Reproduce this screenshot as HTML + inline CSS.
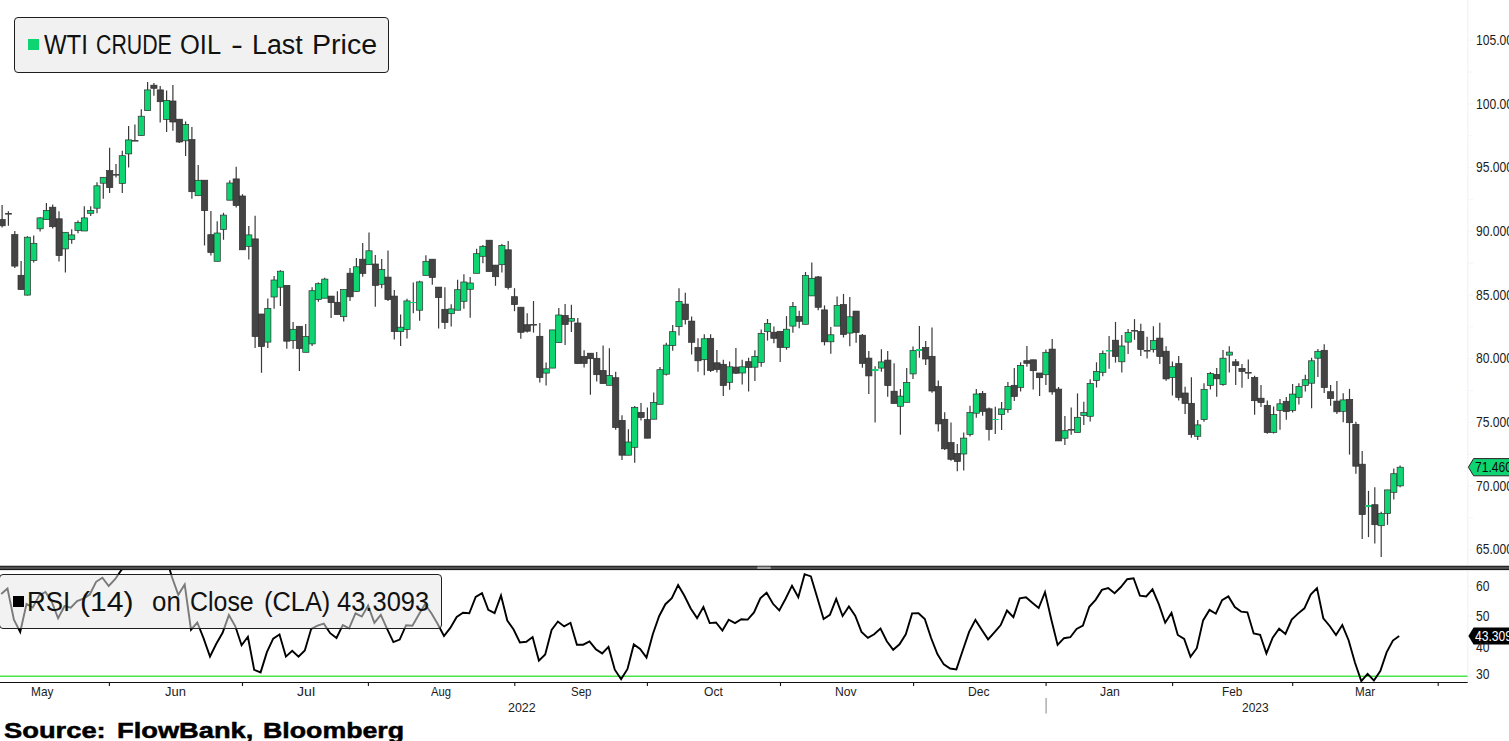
<!DOCTYPE html>
<html><head><meta charset="utf-8"><title>WTI Crude Oil</title>
<style>
html,body{margin:0;padding:0;background:#fff;}
body{width:1509px;height:741px;overflow:hidden;position:relative;font-family:"Liberation Sans",sans-serif;color:#111;}
svg{position:absolute;left:0;top:0;}
.ft{position:absolute;white-space:pre;transform-origin:0 0;display:block;}
.box{position:absolute;box-sizing:border-box;border:1px solid #1e1e1e;border-radius:4px;}
.sq{position:absolute;}
.sr{-webkit-text-stroke:0.5px #000;}
</style></head><body>
<svg width="1509" height="741" viewBox="0 0 1509 741">
<line x1="1467.8" y1="0" x2="1467.8" y2="682" stroke="#f4f3fb" stroke-width="1.3"/>
<g stroke="#f7f6fc" stroke-width="1.4"><line x1="1468" y1="549.8" x2="1473" y2="549.8"/><line x1="1468" y1="518.0" x2="1473" y2="518.0"/><line x1="1468" y1="486.1" x2="1473" y2="486.1"/><line x1="1468" y1="454.2" x2="1473" y2="454.2"/><line x1="1468" y1="422.4" x2="1473" y2="422.4"/><line x1="1468" y1="390.6" x2="1473" y2="390.6"/><line x1="1468" y1="358.7" x2="1473" y2="358.7"/><line x1="1468" y1="326.8" x2="1473" y2="326.8"/><line x1="1468" y1="295.0" x2="1473" y2="295.0"/><line x1="1468" y1="263.1" x2="1473" y2="263.1"/><line x1="1468" y1="231.3" x2="1473" y2="231.3"/><line x1="1468" y1="199.4" x2="1473" y2="199.4"/><line x1="1468" y1="167.6" x2="1473" y2="167.6"/><line x1="1468" y1="135.7" x2="1473" y2="135.7"/><line x1="1468" y1="103.9" x2="1473" y2="103.9"/><line x1="1468" y1="72.1" x2="1473" y2="72.1"/><line x1="1468" y1="40.2" x2="1473" y2="40.2"/><line x1="1468" y1="586.3" x2="1473" y2="586.3"/><line x1="1468" y1="616.1" x2="1473" y2="616.1"/><line x1="1468" y1="647.0" x2="1473" y2="647.0"/><line x1="1468" y1="674.4" x2="1473" y2="674.4"/></g>
<g stroke="#3a3a3a" stroke-width="1.2"><line x1="2.1" y1="205.0" x2="2.1" y2="227.5"/><line x1="8.4" y1="211.2" x2="8.4" y2="225.8"/><line x1="14.8" y1="231.0" x2="14.8" y2="267.9"/><line x1="21.1" y1="260.9" x2="21.1" y2="289.6"/><line x1="27.4" y1="236.3" x2="27.4" y2="295.6"/><line x1="33.7" y1="235.4" x2="33.7" y2="262.5"/><line x1="40.1" y1="217.0" x2="40.1" y2="231.4"/><line x1="46.4" y1="203.0" x2="46.4" y2="219.5"/><line x1="52.7" y1="204.4" x2="52.7" y2="228.4"/><line x1="59.0" y1="211.2" x2="59.0" y2="261.6"/><line x1="65.4" y1="232.3" x2="65.4" y2="272.6"/><line x1="71.7" y1="229.3" x2="71.7" y2="243.7"/><line x1="78.0" y1="220.4" x2="78.0" y2="233.2"/><line x1="84.3" y1="206.3" x2="84.3" y2="231.0"/><line x1="90.7" y1="206.3" x2="90.7" y2="216.0"/><line x1="97.0" y1="182.2" x2="97.0" y2="213.3"/><line x1="103.3" y1="177.3" x2="103.3" y2="198.7"/><line x1="109.6" y1="147.8" x2="109.6" y2="192.9"/><line x1="116.0" y1="164.0" x2="116.0" y2="177.6"/><line x1="122.3" y1="150.8" x2="122.3" y2="192.9"/><line x1="128.6" y1="125.9" x2="128.6" y2="167.6"/><line x1="134.9" y1="124.5" x2="134.9" y2="140.8"/><line x1="141.3" y1="109.2" x2="141.3" y2="135.5"/><line x1="147.6" y1="82.0" x2="147.6" y2="110.6"/><line x1="153.9" y1="82.9" x2="153.9" y2="95.7"/><line x1="160.2" y1="85.9" x2="160.2" y2="122.4"/><line x1="166.6" y1="90.4" x2="166.6" y2="132.0"/><line x1="172.9" y1="85.0" x2="172.9" y2="130.8"/><line x1="179.2" y1="119.2" x2="179.2" y2="143.0"/><line x1="185.6" y1="121.5" x2="185.6" y2="156.0"/><line x1="191.9" y1="127.1" x2="191.9" y2="198.7"/><line x1="198.2" y1="165.0" x2="198.2" y2="195.7"/><line x1="204.5" y1="180.2" x2="204.5" y2="245.5"/><line x1="210.9" y1="211.0" x2="210.9" y2="255.6"/><line x1="217.2" y1="221.2" x2="217.2" y2="261.3"/><line x1="223.5" y1="212.8" x2="223.5" y2="239.8"/><line x1="229.8" y1="180.3" x2="229.8" y2="200.2"/><line x1="236.2" y1="166.7" x2="236.2" y2="207.4"/><line x1="242.5" y1="194.2" x2="242.5" y2="249.8"/><line x1="248.8" y1="226.1" x2="248.8" y2="259.6"/><line x1="255.1" y1="215.8" x2="255.1" y2="347.9"/><line x1="261.5" y1="314.0" x2="261.5" y2="372.8"/><line x1="267.8" y1="298.6" x2="267.8" y2="347.9"/><line x1="274.1" y1="275.9" x2="274.1" y2="308.8"/><line x1="280.4" y1="270.2" x2="280.4" y2="306.1"/><line x1="286.8" y1="285.4" x2="286.8" y2="348.8"/><line x1="293.1" y1="321.9" x2="293.1" y2="348.8"/><line x1="299.4" y1="326.3" x2="299.4" y2="371.0"/><line x1="305.7" y1="324.0" x2="305.7" y2="352.3"/><line x1="312.1" y1="287.2" x2="312.1" y2="346.0"/><line x1="318.4" y1="282.5" x2="318.4" y2="301.8"/><line x1="324.7" y1="277.7" x2="324.7" y2="298.2"/><line x1="331.1" y1="296.1" x2="331.1" y2="317.9"/><line x1="337.4" y1="291.2" x2="337.4" y2="314.6"/><line x1="343.7" y1="289.6" x2="343.7" y2="321.6"/><line x1="350.0" y1="268.0" x2="350.0" y2="300.9"/><line x1="356.4" y1="257.9" x2="356.4" y2="291.4"/><line x1="362.7" y1="243.0" x2="362.7" y2="276.7"/><line x1="369.0" y1="232.5" x2="369.0" y2="264.7"/><line x1="375.3" y1="255.0" x2="375.3" y2="306.7"/><line x1="381.7" y1="259.0" x2="381.7" y2="288.3"/><line x1="388.0" y1="250.4" x2="388.0" y2="300.9"/><line x1="394.3" y1="290.0" x2="394.3" y2="339.5"/><line x1="400.6" y1="314.6" x2="400.6" y2="346.1"/><line x1="407.0" y1="298.8" x2="407.0" y2="338.6"/><line x1="413.3" y1="282.5" x2="413.3" y2="313.2"/><line x1="419.6" y1="280.7" x2="419.6" y2="320.7"/><line x1="425.9" y1="255.2" x2="425.9" y2="275.4"/><line x1="432.3" y1="259.2" x2="432.3" y2="284.8"/><line x1="438.6" y1="287.1" x2="438.6" y2="328.4"/><line x1="444.9" y1="287.3" x2="444.9" y2="329.0"/><line x1="451.2" y1="304.3" x2="451.2" y2="326.4"/><line x1="457.6" y1="279.7" x2="457.6" y2="310.2"/><line x1="463.9" y1="274.2" x2="463.9" y2="308.7"/><line x1="470.2" y1="277.0" x2="470.2" y2="317.7"/><line x1="476.6" y1="248.8" x2="476.6" y2="273.3"/><line x1="482.9" y1="244.9" x2="482.9" y2="263.3"/><line x1="489.2" y1="240.2" x2="489.2" y2="271.6"/><line x1="495.5" y1="265.1" x2="495.5" y2="285.8"/><line x1="501.9" y1="244.0" x2="501.9" y2="272.6"/><line x1="508.2" y1="241.0" x2="508.2" y2="289.6"/><line x1="514.5" y1="288.2" x2="514.5" y2="311.2"/><line x1="520.8" y1="307.2" x2="520.8" y2="338.8"/><line x1="527.2" y1="313.3" x2="527.2" y2="332.6"/><line x1="533.5" y1="301.0" x2="533.5" y2="332.6"/><line x1="539.8" y1="323.0" x2="539.8" y2="382.6"/><line x1="546.1" y1="362.5" x2="546.1" y2="385.6"/><line x1="552.5" y1="329.9" x2="552.5" y2="368.1"/><line x1="558.8" y1="307.9" x2="558.8" y2="342.6"/><line x1="565.1" y1="304.0" x2="565.1" y2="345.0"/><line x1="571.4" y1="304.8" x2="571.4" y2="331.9"/><line x1="577.8" y1="318.0" x2="577.8" y2="363.6"/><line x1="584.1" y1="350.3" x2="584.1" y2="367.5"/><line x1="590.4" y1="353.2" x2="590.4" y2="394.8"/><line x1="596.7" y1="352.1" x2="596.7" y2="381.6"/><line x1="603.1" y1="345.4" x2="603.1" y2="383.6"/><line x1="609.4" y1="348.2" x2="609.4" y2="385.3"/><line x1="615.7" y1="371.8" x2="615.7" y2="429.7"/><line x1="622.0" y1="415.2" x2="622.0" y2="459.9"/><line x1="628.4" y1="429.2" x2="628.4" y2="455.2"/><line x1="634.7" y1="406.0" x2="634.7" y2="462.7"/><line x1="641.0" y1="403.0" x2="641.0" y2="420.6"/><line x1="647.4" y1="407.5" x2="647.4" y2="438.2"/><line x1="653.7" y1="392.4" x2="653.7" y2="419.2"/><line x1="660.0" y1="367.1" x2="660.0" y2="404.3"/><line x1="666.3" y1="342.8" x2="666.3" y2="375.5"/><line x1="672.7" y1="325.0" x2="672.7" y2="350.7"/><line x1="679.0" y1="288.2" x2="679.0" y2="335.4"/><line x1="685.3" y1="292.7" x2="685.3" y2="324.6"/><line x1="691.6" y1="316.4" x2="691.6" y2="354.5"/><line x1="698.0" y1="338.2" x2="698.0" y2="371.7"/><line x1="704.3" y1="334.3" x2="704.3" y2="375.3"/><line x1="710.6" y1="334.3" x2="710.6" y2="372.0"/><line x1="716.9" y1="350.1" x2="716.9" y2="372.6"/><line x1="723.3" y1="359.7" x2="723.3" y2="395.9"/><line x1="729.6" y1="361.6" x2="729.6" y2="389.7"/><line x1="735.9" y1="348.1" x2="735.9" y2="374.1"/><line x1="742.2" y1="359.7" x2="742.2" y2="384.6"/><line x1="748.6" y1="357.7" x2="748.6" y2="391.5"/><line x1="754.9" y1="350.3" x2="754.9" y2="381.0"/><line x1="761.2" y1="329.6" x2="761.2" y2="366.8"/><line x1="767.5" y1="319.0" x2="767.5" y2="340.6"/><line x1="773.9" y1="326.6" x2="773.9" y2="343.2"/><line x1="780.2" y1="331.3" x2="780.2" y2="362.0"/><line x1="786.5" y1="316.1" x2="786.5" y2="349.7"/><line x1="792.9" y1="302.0" x2="792.9" y2="332.7"/><line x1="799.2" y1="310.8" x2="799.2" y2="328.3"/><line x1="805.5" y1="272.0" x2="805.5" y2="324.3"/><line x1="811.8" y1="262.5" x2="811.8" y2="295.9"/><line x1="818.2" y1="276.0" x2="818.2" y2="310.3"/><line x1="824.5" y1="305.4" x2="824.5" y2="345.4"/><line x1="830.8" y1="326.9" x2="830.8" y2="353.8"/><line x1="837.1" y1="296.6" x2="837.1" y2="326.1"/><line x1="843.5" y1="293.9" x2="843.5" y2="337.5"/><line x1="849.8" y1="297.1" x2="849.8" y2="346.2"/><line x1="856.1" y1="311.1" x2="856.1" y2="342.7"/><line x1="862.4" y1="333.9" x2="862.4" y2="367.8"/><line x1="868.8" y1="351.1" x2="868.8" y2="394.0"/><line x1="875.1" y1="366.2" x2="875.1" y2="422.5"/><line x1="881.4" y1="349.3" x2="881.4" y2="371.8"/><line x1="887.7" y1="351.1" x2="887.7" y2="396.7"/><line x1="894.1" y1="363.3" x2="894.1" y2="403.5"/><line x1="900.4" y1="389.1" x2="900.4" y2="434.7"/><line x1="906.7" y1="368.1" x2="906.7" y2="402.3"/><line x1="913.0" y1="346.5" x2="913.0" y2="378.9"/><line x1="919.4" y1="326.0" x2="919.4" y2="357.7"/><line x1="925.7" y1="341.0" x2="925.7" y2="364.9"/><line x1="932.0" y1="327.6" x2="932.0" y2="392.7"/><line x1="938.3" y1="380.4" x2="938.3" y2="431.6"/><line x1="944.7" y1="412.3" x2="944.7" y2="450.0"/><line x1="951.0" y1="422.5" x2="951.0" y2="460.7"/><line x1="957.3" y1="444.1" x2="957.3" y2="471.2"/><line x1="963.7" y1="432.4" x2="963.7" y2="470.5"/><line x1="970.0" y1="405.8" x2="970.0" y2="436.5"/><line x1="976.3" y1="389.1" x2="976.3" y2="417.7"/><line x1="982.6" y1="390.9" x2="982.6" y2="415.8"/><line x1="989.0" y1="407.5" x2="989.0" y2="440.4"/><line x1="995.3" y1="406.7" x2="995.3" y2="433.9"/><line x1="1001.6" y1="401.9" x2="1001.6" y2="430.0"/><line x1="1007.9" y1="382.1" x2="1007.9" y2="412.8"/><line x1="1014.3" y1="368.1" x2="1014.3" y2="400.9"/><line x1="1020.6" y1="362.3" x2="1020.6" y2="391.4"/><line x1="1026.9" y1="346.1" x2="1026.9" y2="366.8"/><line x1="1033.2" y1="359.8" x2="1033.2" y2="389.6"/><line x1="1039.6" y1="373.0" x2="1039.6" y2="396.1"/><line x1="1045.9" y1="349.6" x2="1045.9" y2="385.1"/><line x1="1052.2" y1="339.0" x2="1052.2" y2="394.7"/><line x1="1058.5" y1="387.0" x2="1058.5" y2="440.9"/><line x1="1064.9" y1="416.0" x2="1064.9" y2="444.9"/><line x1="1071.2" y1="407.6" x2="1071.2" y2="434.7"/><line x1="1077.5" y1="393.4" x2="1077.5" y2="432.4"/><line x1="1083.8" y1="401.8" x2="1083.8" y2="425.0"/><line x1="1090.2" y1="379.3" x2="1090.2" y2="421.4"/><line x1="1096.5" y1="362.3" x2="1096.5" y2="387.5"/><line x1="1102.8" y1="350.4" x2="1102.8" y2="376.3"/><line x1="1109.1" y1="336.0" x2="1109.1" y2="368.8"/><line x1="1115.5" y1="321.9" x2="1115.5" y2="362.6"/><line x1="1121.8" y1="335.1" x2="1121.8" y2="372.6"/><line x1="1128.1" y1="328.9" x2="1128.1" y2="353.9"/><line x1="1134.5" y1="319.1" x2="1134.5" y2="339.8"/><line x1="1140.8" y1="323.7" x2="1140.8" y2="356.0"/><line x1="1147.1" y1="336.8" x2="1147.1" y2="358.6"/><line x1="1153.4" y1="326.3" x2="1153.4" y2="352.6"/><line x1="1159.8" y1="322.8" x2="1159.8" y2="364.0"/><line x1="1166.1" y1="346.3" x2="1166.1" y2="380.7"/><line x1="1172.4" y1="361.4" x2="1172.4" y2="395.4"/><line x1="1178.7" y1="356.0" x2="1178.7" y2="400.4"/><line x1="1185.1" y1="386.8" x2="1185.1" y2="413.9"/><line x1="1191.4" y1="377.2" x2="1191.4" y2="437.7"/><line x1="1197.7" y1="420.0" x2="1197.7" y2="440.0"/><line x1="1204.0" y1="383.3" x2="1204.0" y2="421.8"/><line x1="1210.4" y1="371.9" x2="1210.4" y2="389.5"/><line x1="1216.7" y1="367.9" x2="1216.7" y2="396.8"/><line x1="1223.0" y1="350.0" x2="1223.0" y2="385.8"/><line x1="1229.3" y1="346.3" x2="1229.3" y2="372.6"/><line x1="1235.7" y1="359.1" x2="1235.7" y2="384.9"/><line x1="1242.0" y1="364.0" x2="1242.0" y2="387.7"/><line x1="1248.3" y1="359.6" x2="1248.3" y2="378.9"/><line x1="1254.6" y1="375.8" x2="1254.6" y2="414.7"/><line x1="1261.0" y1="385.1" x2="1261.0" y2="407.0"/><line x1="1267.3" y1="400.4" x2="1267.3" y2="433.7"/><line x1="1273.6" y1="406.4" x2="1273.6" y2="433.4"/><line x1="1280.0" y1="399.0" x2="1280.0" y2="429.7"/><line x1="1286.3" y1="396.9" x2="1286.3" y2="419.7"/><line x1="1292.6" y1="384.1" x2="1292.6" y2="412.4"/><line x1="1298.9" y1="383.2" x2="1298.9" y2="404.6"/><line x1="1305.3" y1="374.7" x2="1305.3" y2="391.5"/><line x1="1311.6" y1="357.8" x2="1311.6" y2="408.3"/><line x1="1317.9" y1="349.0" x2="1317.9" y2="377.1"/><line x1="1324.2" y1="344.3" x2="1324.2" y2="392.9"/><line x1="1330.6" y1="385.0" x2="1330.6" y2="405.7"/><line x1="1336.9" y1="381.0" x2="1336.9" y2="413.9"/><line x1="1343.2" y1="393.2" x2="1343.2" y2="422.2"/><line x1="1349.5" y1="388.9" x2="1349.5" y2="454.6"/><line x1="1355.9" y1="421.7" x2="1355.9" y2="473.7"/><line x1="1362.2" y1="451.0" x2="1362.2" y2="538.9"/><line x1="1368.5" y1="490.9" x2="1368.5" y2="537.1"/><line x1="1374.8" y1="487.3" x2="1374.8" y2="543.5"/><line x1="1381.2" y1="511.8" x2="1381.2" y2="557.1"/><line x1="1387.5" y1="489.9" x2="1387.5" y2="524.9"/><line x1="1393.8" y1="468.6" x2="1393.8" y2="499.6"/><line x1="1400.1" y1="465.6" x2="1400.1" y2="487.3"/></g><g stroke="#2e2e2e" stroke-width="0.7"><rect x="-1.0" y="219.6" width="6.2" height="6.2" fill="#444444"/><rect x="5.1" y="213" width="6.8" height="1.6" fill="#444444" stroke="none"/><rect x="11.7" y="234.6" width="6.2" height="31.5" fill="#444444"/><rect x="18.0" y="275.3" width="6.2" height="14.3" fill="#444444"/><rect x="24.3" y="237.2" width="6.2" height="57.9" fill="#0ed572"/><rect x="30.7" y="243.3" width="6.2" height="17.2" fill="#0ed572"/><rect x="37.0" y="217.9" width="6.2" height="10.9" fill="#0ed572"/><rect x="43.3" y="210.4" width="6.2" height="9.1" fill="#0ed572"/><rect x="49.6" y="207.2" width="6.2" height="19.5" fill="#444444"/><rect x="56.0" y="218.8" width="6.2" height="36.8" fill="#444444"/><rect x="62.3" y="232.3" width="6.2" height="16.6" fill="#0ed572"/><rect x="68.6" y="234.9" width="6.2" height="4.6" fill="#0ed572"/><rect x="74.9" y="222.6" width="6.2" height="7.9" fill="#0ed572"/><rect x="81.3" y="217.9" width="6.2" height="13.1" fill="#0ed572"/><rect x="87.6" y="210.4" width="6.2" height="2.9" fill="#0ed572"/><rect x="93.9" y="185.8" width="6.2" height="22.4" fill="#0ed572"/><rect x="100.2" y="177.3" width="6.2" height="5.9" fill="#0ed572"/><rect x="106.6" y="170.6" width="6.2" height="17.0" fill="#444444"/><rect x="112.6" y="174" width="6.8" height="1.6" fill="#444444" stroke="none"/><rect x="119.2" y="155.7" width="6.2" height="27.7" fill="#0ed572"/><rect x="125.5" y="139.9" width="6.2" height="14.0" fill="#0ed572"/><rect x="131.6" y="140" width="6.8" height="1.6" fill="#444444" stroke="none"/><rect x="138.2" y="116.2" width="6.2" height="19.3" fill="#0ed572"/><rect x="144.5" y="89.9" width="6.2" height="20.7" fill="#0ed572"/><rect x="150.8" y="85.2" width="6.2" height="3.1" fill="#444444"/><rect x="157.2" y="89.9" width="6.2" height="11.8" fill="#444444"/><rect x="163.5" y="100.4" width="6.2" height="19.0" fill="#0ed572"/><rect x="169.8" y="101.0" width="6.2" height="21.0" fill="#444444"/><rect x="176.2" y="119.2" width="6.2" height="22.8" fill="#444444"/><rect x="182.5" y="124.6" width="6.2" height="16.2" fill="#0ed572"/><rect x="188.8" y="139.6" width="6.2" height="52.1" fill="#444444"/><rect x="195.1" y="180.3" width="6.2" height="15.4" fill="#0ed572"/><rect x="201.5" y="180.2" width="6.2" height="30.4" fill="#444444"/><rect x="207.8" y="234.7" width="6.2" height="17.8" fill="#444444"/><rect x="214.1" y="233.0" width="6.2" height="28.3" fill="#0ed572"/><rect x="220.4" y="215.1" width="6.2" height="14.4" fill="#0ed572"/><rect x="226.8" y="183.0" width="6.2" height="17.2" fill="#0ed572"/><rect x="233.1" y="178.9" width="6.2" height="26.6" fill="#444444"/><rect x="239.4" y="196.0" width="6.2" height="53.8" fill="#444444"/><rect x="245.7" y="234.9" width="6.2" height="11.4" fill="#0ed572"/><rect x="252.1" y="238.9" width="6.2" height="97.6" fill="#444444"/><rect x="258.4" y="314.0" width="6.2" height="32.5" fill="#444444"/><rect x="264.7" y="308.4" width="6.2" height="33.7" fill="#0ed572"/><rect x="271.0" y="280.0" width="6.2" height="17.0" fill="#0ed572"/><rect x="277.4" y="271.2" width="6.2" height="16.0" fill="#0ed572"/><rect x="283.7" y="285.4" width="6.2" height="55.8" fill="#444444"/><rect x="290.0" y="329.3" width="6.2" height="11.1" fill="#0ed572"/><rect x="296.3" y="326.3" width="6.2" height="22.3" fill="#444444"/><rect x="302.7" y="336.5" width="6.2" height="15.8" fill="#0ed572"/><rect x="309.0" y="290.7" width="6.2" height="53.2" fill="#0ed572"/><rect x="315.3" y="283.7" width="6.2" height="15.8" fill="#0ed572"/><rect x="321.7" y="279.1" width="6.2" height="19.1" fill="#0ed572"/><rect x="328.0" y="296.1" width="6.2" height="6.5" fill="#444444"/><rect x="334.3" y="302.3" width="6.2" height="12.3" fill="#444444"/><rect x="340.6" y="289.6" width="6.2" height="27.1" fill="#0ed572"/><rect x="347.0" y="273.2" width="6.2" height="23.6" fill="#444444"/><rect x="353.3" y="266.8" width="6.2" height="24.6" fill="#0ed572"/><rect x="359.6" y="259.2" width="6.2" height="14.2" fill="#444444"/><rect x="365.9" y="250.8" width="6.2" height="13.9" fill="#0ed572"/><rect x="372.3" y="264.0" width="6.2" height="21.4" fill="#444444"/><rect x="378.6" y="269.6" width="6.2" height="14.7" fill="#0ed572"/><rect x="384.9" y="277.1" width="6.2" height="22.5" fill="#444444"/><rect x="391.2" y="296.1" width="6.2" height="35.5" fill="#444444"/><rect x="397.6" y="327.2" width="6.2" height="4.4" fill="#0ed572"/><rect x="403.9" y="300.9" width="6.2" height="28.6" fill="#0ed572"/><rect x="409.9" y="302" width="6.8" height="1.0" fill="#0ed572" stroke="none"/><rect x="416.5" y="281.9" width="6.2" height="28.3" fill="#0ed572"/><rect x="422.9" y="261.3" width="6.2" height="14.1" fill="#0ed572"/><rect x="429.2" y="259.2" width="6.2" height="18.2" fill="#444444"/><rect x="435.5" y="287.1" width="6.2" height="10.5" fill="#444444"/><rect x="441.8" y="309.3" width="6.2" height="13.2" fill="#444444"/><rect x="448.2" y="308.9" width="6.2" height="4.8" fill="#0ed572"/><rect x="454.5" y="289.7" width="6.2" height="20.5" fill="#0ed572"/><rect x="460.8" y="282.0" width="6.2" height="19.3" fill="#0ed572"/><rect x="467.1" y="283.0" width="6.2" height="6.3" fill="#0ed572"/><rect x="473.5" y="253.7" width="6.2" height="19.6" fill="#0ed572"/><rect x="479.8" y="246.3" width="6.2" height="10.0" fill="#0ed572"/><rect x="486.1" y="240.2" width="6.2" height="31.4" fill="#444444"/><rect x="492.5" y="265.1" width="6.2" height="11.6" fill="#444444"/><rect x="498.8" y="245.4" width="6.2" height="19.3" fill="#0ed572"/><rect x="505.1" y="249.8" width="6.2" height="37.7" fill="#444444"/><rect x="511.4" y="296.7" width="6.2" height="7.9" fill="#444444"/><rect x="517.8" y="307.2" width="6.2" height="25.1" fill="#444444"/><rect x="524.1" y="324.7" width="6.2" height="6.5" fill="#444444"/><rect x="530.1" y="324" width="6.8" height="1.6" fill="#444444" stroke="none"/><rect x="536.7" y="336.3" width="6.2" height="41.3" fill="#444444"/><rect x="543.1" y="368.8" width="6.2" height="4.3" fill="#0ed572"/><rect x="549.4" y="329.9" width="6.2" height="38.2" fill="#0ed572"/><rect x="555.7" y="315.0" width="6.2" height="27.6" fill="#0ed572"/><rect x="562.0" y="315.5" width="6.2" height="9.0" fill="#444444"/><rect x="568.4" y="318.6" width="6.2" height="2.6" fill="#0ed572"/><rect x="574.7" y="323.0" width="6.2" height="40.6" fill="#444444"/><rect x="581.0" y="356.4" width="6.2" height="7.0" fill="#444444"/><rect x="587.3" y="353.2" width="6.2" height="5.5" fill="#444444"/><rect x="593.7" y="358.3" width="6.2" height="16.4" fill="#444444"/><rect x="600.0" y="370.5" width="6.2" height="13.1" fill="#444444"/><rect x="606.3" y="375.4" width="6.2" height="9.9" fill="#0ed572"/><rect x="612.6" y="377.7" width="6.2" height="49.8" fill="#444444"/><rect x="619.0" y="420.4" width="6.2" height="34.8" fill="#444444"/><rect x="625.3" y="442.0" width="6.2" height="13.2" fill="#0ed572"/><rect x="631.6" y="407.3" width="6.2" height="40.0" fill="#0ed572"/><rect x="638.0" y="412.4" width="6.2" height="5.1" fill="#444444"/><rect x="644.3" y="419.6" width="6.2" height="18.6" fill="#444444"/><rect x="650.6" y="402.5" width="6.2" height="16.7" fill="#0ed572"/><rect x="656.9" y="369.7" width="6.2" height="34.6" fill="#0ed572"/><rect x="663.3" y="345.1" width="6.2" height="29.1" fill="#0ed572"/><rect x="669.6" y="331.7" width="6.2" height="13.9" fill="#0ed572"/><rect x="675.9" y="301.5" width="6.2" height="25.2" fill="#0ed572"/><rect x="682.2" y="304.1" width="6.2" height="15.5" fill="#444444"/><rect x="688.6" y="321.1" width="6.2" height="21.2" fill="#444444"/><rect x="694.9" y="347.5" width="6.2" height="13.3" fill="#444444"/><rect x="701.2" y="338.8" width="6.2" height="20.9" fill="#0ed572"/><rect x="707.5" y="338.4" width="6.2" height="32.1" fill="#444444"/><rect x="713.9" y="362.8" width="6.2" height="6.7" fill="#444444"/><rect x="720.2" y="364.3" width="6.2" height="21.2" fill="#444444"/><rect x="726.5" y="366.8" width="6.2" height="15.5" fill="#0ed572"/><rect x="732.8" y="367.1" width="6.2" height="6.1" fill="#444444"/><rect x="739.2" y="366.8" width="6.2" height="6.2" fill="#0ed572"/><rect x="745.5" y="361.7" width="6.2" height="5.7" fill="#444444"/><rect x="751.8" y="356.4" width="6.2" height="10.8" fill="#0ed572"/><rect x="758.1" y="333.4" width="6.2" height="29.0" fill="#0ed572"/><rect x="764.5" y="323.4" width="6.2" height="8.3" fill="#0ed572"/><rect x="770.8" y="332.2" width="6.2" height="6.1" fill="#444444"/><rect x="777.1" y="331.3" width="6.2" height="16.2" fill="#444444"/><rect x="783.4" y="329.2" width="6.2" height="18.3" fill="#0ed572"/><rect x="789.8" y="306.4" width="6.2" height="19.7" fill="#0ed572"/><rect x="796.1" y="316.4" width="6.2" height="4.9" fill="#444444"/><rect x="802.4" y="275.5" width="6.2" height="48.8" fill="#0ed572"/><rect x="808.8" y="278.3" width="6.2" height="17.6" fill="#0ed572"/><rect x="815.1" y="276.9" width="6.2" height="30.4" fill="#444444"/><rect x="821.4" y="309.9" width="6.2" height="31.9" fill="#444444"/><rect x="827.7" y="334.8" width="6.2" height="7.0" fill="#0ed572"/><rect x="834.1" y="305.5" width="6.2" height="20.6" fill="#0ed572"/><rect x="840.4" y="304.5" width="6.2" height="30.0" fill="#444444"/><rect x="846.7" y="316.8" width="6.2" height="16.3" fill="#0ed572"/><rect x="853.0" y="311.1" width="6.2" height="21.4" fill="#444444"/><rect x="859.4" y="335.2" width="6.2" height="28.2" fill="#444444"/><rect x="865.7" y="358.1" width="6.2" height="17.8" fill="#444444"/><rect x="871.7" y="369" width="6.8" height="2.0" fill="#0ed572" stroke="none"/><rect x="878.3" y="361.9" width="6.2" height="6.2" fill="#0ed572"/><rect x="884.7" y="360.1" width="6.2" height="25.5" fill="#444444"/><rect x="891.0" y="391.2" width="6.2" height="12.3" fill="#444444"/><rect x="897.3" y="396.1" width="6.2" height="10.2" fill="#0ed572"/><rect x="903.6" y="382.5" width="6.2" height="19.8" fill="#0ed572"/><rect x="910.0" y="350.5" width="6.2" height="23.4" fill="#0ed572"/><rect x="916.0" y="349" width="6.8" height="2.0" fill="#0ed572" stroke="none"/><rect x="922.6" y="347.5" width="6.2" height="11.5" fill="#444444"/><rect x="928.9" y="356.3" width="6.2" height="34.7" fill="#444444"/><rect x="935.3" y="386.5" width="6.2" height="37.4" fill="#444444"/><rect x="941.6" y="419.3" width="6.2" height="29.5" fill="#444444"/><rect x="947.9" y="442.6" width="6.2" height="16.7" fill="#444444"/><rect x="954.3" y="453.4" width="6.2" height="8.1" fill="#444444"/><rect x="960.6" y="438.1" width="6.2" height="15.9" fill="#0ed572"/><rect x="966.9" y="412.5" width="6.2" height="21.9" fill="#0ed572"/><rect x="973.2" y="394.0" width="6.2" height="19.2" fill="#0ed572"/><rect x="979.6" y="393.5" width="6.2" height="17.9" fill="#444444"/><rect x="985.9" y="408.8" width="6.2" height="20.7" fill="#444444"/><rect x="991.9" y="419" width="6.8" height="1.0" fill="#0ed572" stroke="none"/><rect x="998.5" y="408.9" width="6.2" height="5.7" fill="#0ed572"/><rect x="1004.9" y="386.5" width="6.2" height="23.1" fill="#0ed572"/><rect x="1011.2" y="385.3" width="6.2" height="11.2" fill="#444444"/><rect x="1017.5" y="365.4" width="6.2" height="22.0" fill="#0ed572"/><rect x="1023.8" y="360.7" width="6.2" height="2.6" fill="#444444"/><rect x="1030.2" y="359.8" width="6.2" height="10.9" fill="#444444"/><rect x="1036.5" y="373.0" width="6.2" height="4.7" fill="#444444"/><rect x="1042.8" y="352.3" width="6.2" height="22.4" fill="#0ed572"/><rect x="1049.1" y="349.1" width="6.2" height="42.8" fill="#444444"/><rect x="1055.5" y="389.1" width="6.2" height="51.8" fill="#444444"/><rect x="1061.8" y="430.7" width="6.2" height="7.5" fill="#0ed572"/><rect x="1067.8" y="429" width="6.8" height="1.6" fill="#444444" stroke="none"/><rect x="1074.4" y="417.3" width="6.2" height="15.1" fill="#0ed572"/><rect x="1080.8" y="412.5" width="6.2" height="3.0" fill="#0ed572"/><rect x="1087.1" y="383.5" width="6.2" height="32.8" fill="#0ed572"/><rect x="1093.4" y="371.4" width="6.2" height="9.1" fill="#0ed572"/><rect x="1099.7" y="353.5" width="6.2" height="18.8" fill="#0ed572"/><rect x="1105.8" y="350" width="6.8" height="1.5" fill="#0ed572" stroke="none"/><rect x="1112.4" y="340.2" width="6.2" height="16.3" fill="#444444"/><rect x="1118.7" y="346.0" width="6.2" height="15.8" fill="#0ed572"/><rect x="1125.1" y="332.5" width="6.2" height="9.6" fill="#0ed572"/><rect x="1131.1" y="330" width="6.8" height="1.6" fill="#444444" stroke="none"/><rect x="1137.7" y="331.4" width="6.2" height="18.1" fill="#444444"/><rect x="1143.7" y="350" width="6.8" height="1.6" fill="#444444" stroke="none"/><rect x="1150.4" y="340.4" width="6.2" height="9.1" fill="#0ed572"/><rect x="1156.7" y="338.1" width="6.2" height="18.4" fill="#444444"/><rect x="1163.0" y="351.2" width="6.2" height="27.7" fill="#444444"/><rect x="1169.3" y="366.7" width="6.2" height="10.8" fill="#0ed572"/><rect x="1175.7" y="363.5" width="6.2" height="33.9" fill="#444444"/><rect x="1182.0" y="393.0" width="6.2" height="10.5" fill="#444444"/><rect x="1188.3" y="403.3" width="6.2" height="31.3" fill="#444444"/><rect x="1194.6" y="424.9" width="6.2" height="11.4" fill="#0ed572"/><rect x="1201.0" y="389.3" width="6.2" height="30.3" fill="#0ed572"/><rect x="1207.3" y="373.5" width="6.2" height="11.9" fill="#0ed572"/><rect x="1213.6" y="374.4" width="6.2" height="4.4" fill="#444444"/><rect x="1219.9" y="358.2" width="6.2" height="26.4" fill="#0ed572"/><rect x="1226.3" y="352.1" width="6.2" height="3.0" fill="#0ed572"/><rect x="1232.6" y="361.8" width="6.2" height="3.8" fill="#444444"/><rect x="1238.9" y="368.4" width="6.2" height="3.0" fill="#444444"/><rect x="1244.9" y="372" width="6.8" height="1.6" fill="#444444" stroke="none"/><rect x="1251.6" y="377.5" width="6.2" height="23.2" fill="#444444"/><rect x="1257.9" y="398.2" width="6.2" height="4.4" fill="#444444"/><rect x="1264.2" y="405.3" width="6.2" height="27.2" fill="#444444"/><rect x="1270.6" y="414.6" width="6.2" height="17.8" fill="#0ed572"/><rect x="1276.9" y="403.8" width="6.2" height="6.6" fill="#0ed572"/><rect x="1283.2" y="401.3" width="6.2" height="10.3" fill="#444444"/><rect x="1289.5" y="394.1" width="6.2" height="16.3" fill="#0ed572"/><rect x="1295.9" y="386.5" width="6.2" height="10.8" fill="#0ed572"/><rect x="1302.2" y="379.7" width="6.2" height="5.7" fill="#0ed572"/><rect x="1308.5" y="360.8" width="6.2" height="22.4" fill="#0ed572"/><rect x="1314.8" y="351.3" width="6.2" height="6.9" fill="#0ed572"/><rect x="1321.2" y="350.3" width="6.2" height="37.3" fill="#444444"/><rect x="1327.5" y="391.7" width="6.2" height="6.8" fill="#444444"/><rect x="1333.8" y="401.1" width="6.2" height="10.7" fill="#444444"/><rect x="1340.1" y="399.9" width="6.2" height="11.4" fill="#0ed572"/><rect x="1346.5" y="399.4" width="6.2" height="23.3" fill="#444444"/><rect x="1352.8" y="424.3" width="6.2" height="41.9" fill="#444444"/><rect x="1359.1" y="464.2" width="6.2" height="50.4" fill="#444444"/><rect x="1365.1" y="505" width="6.8" height="2.0" fill="#0ed572" stroke="none"/><rect x="1371.8" y="504.7" width="6.2" height="20.0" fill="#444444"/><rect x="1378.1" y="513.6" width="6.2" height="12.1" fill="#0ed572"/><rect x="1384.4" y="489.9" width="6.2" height="23.7" fill="#0ed572"/><rect x="1390.7" y="473.7" width="6.2" height="18.6" fill="#0ed572"/><rect x="1397.1" y="467.2" width="6.2" height="18.7" fill="#0ed572"/></g>
<rect x="0" y="565" width="1509" height="1" fill="#c4c4c4"/>
<rect x="0" y="566" width="1509" height="1" fill="#262626"/>
<rect x="0" y="567" width="1509" height="2" fill="#505050"/>
<rect x="0" y="569" width="1509" height="1" fill="#1a1a1a"/>
<rect x="0" y="570" width="1509" height="1" fill="#e6e6e6"/>
<rect x="757.3" y="566" width="13.4" height="1" fill="#5a5a5a"/>
<rect x="757.3" y="567" width="13.4" height="2" fill="#a2a2a2"/>
<line x1="0" y1="676.2" x2="1467.5" y2="676.2" stroke="#48e648" stroke-width="1.5"/>
<svg x="0" y="570" width="1468" height="113" viewBox="0 570 1468 113"><polyline points="1.2,594.0 7.5,588.5 13.9,619.7 20.2,632.0 26.5,604.0 32.8,607.4 39.2,595.4 45.5,592.0 51.8,602.0 58.1,618.3 64.5,606.2 70.8,607.7 77.1,601.1 83.4,598.6 89.8,594.5 96.1,581.8 102.4,577.7 108.7,586.0 115.1,579.2 121.4,570.0 127.7,562.9 134.0,563.7 140.4,553.0 146.7,543.2 153.0,542.7 159.3,556.4 165.7,555.8 172.0,577.3 178.3,594.8 184.7,584.5 191.0,629.7 197.3,622.5 203.6,638.4 210.0,656.5 216.3,643.8 222.6,632.8 228.9,615.1 235.3,626.3 241.6,645.2 247.9,636.8 254.2,669.9 260.6,672.4 266.9,652.2 273.2,638.6 279.5,634.5 285.9,656.6 292.2,650.9 298.5,656.6 304.8,650.4 311.2,628.8 317.5,625.7 323.8,623.6 330.2,633.2 336.5,638.0 342.8,625.1 349.1,628.3 355.5,613.3 361.8,616.6 368.1,605.6 374.4,622.8 380.8,614.9 387.1,628.9 393.4,642.1 399.7,639.6 406.1,625.2 412.4,625.8 418.7,614.7 425.0,604.3 431.4,613.3 437.7,624.0 444.0,636.0 450.3,627.9 456.7,616.9 463.0,612.7 469.3,613.3 475.7,596.9 482.0,593.1 488.3,609.9 494.6,613.1 501.0,595.4 507.3,620.6 513.6,629.5 519.9,642.5 526.3,641.8 532.6,637.0 538.9,660.6 545.2,654.4 551.6,629.9 557.9,621.5 564.2,626.4 570.5,622.8 576.9,644.8 583.2,644.7 589.5,641.4 595.8,649.2 602.2,653.4 608.5,646.9 614.8,669.7 621.1,679.2 627.5,668.9 633.8,644.4 640.1,648.9 646.5,657.5 652.8,634.3 659.1,616.2 665.4,604.2 671.8,598.1 678.1,585.1 684.4,595.8 690.7,608.4 697.1,618.1 703.4,607.0 709.7,623.1 716.0,622.5 722.4,630.5 728.7,619.7 735.0,623.1 741.3,619.2 747.7,619.6 754.0,612.4 760.3,598.3 766.6,592.7 773.0,603.8 779.3,610.4 785.6,598.7 792.0,585.7 798.3,597.3 804.6,574.2 810.9,576.4 817.3,597.8 823.6,619.1 829.9,614.9 836.2,598.8 842.6,616.0 848.9,606.5 855.2,615.6 861.5,631.9 867.9,637.9 874.2,634.3 880.5,628.6 886.8,641.2 893.2,649.8 899.5,644.3 905.8,634.3 912.1,613.4 918.5,613.2 924.8,619.0 931.1,638.0 937.4,654.1 943.8,664.4 950.1,668.5 956.4,669.4 962.8,650.3 969.1,631.9 975.4,619.9 981.7,629.8 988.1,639.4 994.4,632.4 1000.7,625.1 1007.0,610.5 1013.4,617.1 1019.7,598.4 1026.0,597.2 1032.3,602.7 1038.7,608.0 1045.0,592.1 1051.3,619.5 1057.6,644.9 1064.0,638.2 1070.3,637.2 1076.6,628.9 1082.9,625.6 1089.3,606.8 1095.6,599.8 1101.9,589.9 1108.2,588.0 1114.6,593.2 1120.9,587.0 1127.2,579.2 1133.6,578.2 1139.9,595.6 1146.2,596.4 1152.5,589.3 1158.9,604.4 1165.2,622.7 1171.5,612.9 1177.8,635.0 1184.2,638.9 1190.5,656.8 1196.8,648.2 1203.1,620.4 1209.5,609.9 1215.8,613.7 1222.1,600.2 1228.4,596.4 1234.8,607.1 1241.1,611.6 1247.4,612.3 1253.7,633.4 1260.1,634.7 1266.4,653.4 1272.7,637.6 1279.1,628.7 1285.4,634.0 1291.7,619.6 1298.0,613.6 1304.4,608.3 1310.7,594.5 1317.0,588.1 1323.3,618.3 1329.7,626.0 1336.0,635.0 1342.3,625.1 1348.6,640.2 1355.0,662.8 1361.3,681.1 1367.6,673.8 1373.9,680.5 1380.3,671.1 1386.6,652.4 1392.9,640.6 1399.2,636.0" fill="none" stroke="#000" stroke-width="1.9" stroke-linejoin="miter"/></svg>
<line x1="0" y1="682.5" x2="1467.7" y2="682.5" stroke="#111" stroke-width="1.2"/>
<g stroke="#111" stroke-width="1.1"><line x1="109.4" y1="682.5" x2="109.4" y2="686"/><line x1="242.5" y1="682.5" x2="242.5" y2="686"/><line x1="368.4" y1="682.5" x2="368.4" y2="686"/><line x1="514.8" y1="682.5" x2="514.8" y2="686"/><line x1="647.4" y1="682.5" x2="647.4" y2="686"/><line x1="780.5" y1="682.5" x2="780.5" y2="686"/><line x1="913.6" y1="682.5" x2="913.6" y2="686"/><line x1="1046.1" y1="682.5" x2="1046.1" y2="686"/><line x1="1172.6" y1="682.5" x2="1172.6" y2="686"/><line x1="1292.7" y1="682.5" x2="1292.7" y2="686"/><line x1="1438.2" y1="682.5" x2="1438.2" y2="686"/></g>
<line x1="1046.1" y1="698" x2="1046.1" y2="713.6" stroke="#9a9a9a" stroke-width="1.2"/>
<polygon points="1468.4,467.2 1473.6,458.6 1509.5,458.6 1509.5,475.8 1473.6,475.8" fill="#0ed572" stroke="#262626" stroke-width="1"/>
<polygon points="1468.4,636 1473.6,627.5 1509.5,627.5 1509.5,644.5 1473.6,644.5" fill="#000"/>
</svg>
<span class="ft" style="left:1475.90px;top:29.85px;font-size:13.9px;line-height:21px;font-weight:normal;color:#1c1c1c;transform:scaleX(0.8720)">105.00</span><span class="ft" style="left:1475.90px;top:93.55px;font-size:13.9px;line-height:21px;font-weight:normal;color:#1c1c1c;transform:scaleX(0.8720)">100.00</span><span class="ft" style="left:1475.90px;top:157.25px;font-size:13.9px;line-height:21px;font-weight:normal;color:#1c1c1c;transform:scaleX(0.8720)">95.000</span><span class="ft" style="left:1475.90px;top:220.95px;font-size:13.9px;line-height:21px;font-weight:normal;color:#1c1c1c;transform:scaleX(0.8720)">90.000</span><span class="ft" style="left:1475.90px;top:284.65px;font-size:13.9px;line-height:21px;font-weight:normal;color:#1c1c1c;transform:scaleX(0.8720)">85.000</span><span class="ft" style="left:1475.90px;top:348.35px;font-size:13.9px;line-height:21px;font-weight:normal;color:#1c1c1c;transform:scaleX(0.8720)">80.000</span><span class="ft" style="left:1475.90px;top:412.05px;font-size:13.9px;line-height:21px;font-weight:normal;color:#1c1c1c;transform:scaleX(0.8720)">75.000</span><span class="ft" style="left:1475.90px;top:475.75px;font-size:13.9px;line-height:21px;font-weight:normal;color:#1c1c1c;transform:scaleX(0.8720)">70.000</span><span class="ft" style="left:1475.90px;top:539.45px;font-size:13.9px;line-height:21px;font-weight:normal;color:#1c1c1c;transform:scaleX(0.8720)">65.000</span><span class="ft" style="left:1475.60px;top:575.95px;font-size:13.9px;line-height:21px;font-weight:normal;color:#1c1c1c;transform:scaleX(0.8720)">60</span><span class="ft" style="left:1475.60px;top:605.75px;font-size:13.9px;line-height:21px;font-weight:normal;color:#1c1c1c;transform:scaleX(0.8720)">50</span><span class="ft" style="left:1475.60px;top:636.65px;font-size:13.9px;line-height:21px;font-weight:normal;color:#1c1c1c;transform:scaleX(0.8720)">40</span><span class="ft" style="left:1475.60px;top:664.05px;font-size:13.9px;line-height:21px;font-weight:normal;color:#1c1c1c;transform:scaleX(0.8720)">30</span>
<span class="ft" style="left:1475.30px;top:456.95px;font-size:13.9px;line-height:21px;font-weight:normal;color:#0a0a0a;transform:scaleX(0.8720)">71.460</span><span class="ft" style="left:1475.30px;top:625.85px;font-size:13.9px;line-height:21px;font-weight:normal;color:#fff;transform:scaleX(0.8720)">43.309</span>
<span class="ft" style="left:31.23px;top:682.90px;font-size:12.2px;line-height:19px;font-weight:normal;color:#1c1c1c;transform:scaleX(0.9727)">May</span><span class="ft" style="left:165.43px;top:682.90px;font-size:12.2px;line-height:19px;font-weight:normal;color:#1c1c1c;transform:scaleX(1.0613)">Jun</span><span class="ft" style="left:296.91px;top:682.90px;font-size:12.2px;line-height:19px;font-weight:normal;color:#1c1c1c;transform:scaleX(1.1586)">Jul</span><span class="ft" style="left:431.30px;top:682.90px;font-size:12.2px;line-height:19px;font-weight:normal;color:#1c1c1c;transform:scaleX(0.9238)">Aug</span><span class="ft" style="left:570.63px;top:682.90px;font-size:12.2px;line-height:19px;font-weight:normal;color:#1c1c1c;transform:scaleX(0.9446)">Sep</span><span class="ft" style="left:703.60px;top:682.90px;font-size:12.2px;line-height:19px;font-weight:normal;color:#1c1c1c;transform:scaleX(0.9918)">Oct</span><span class="ft" style="left:834.60px;top:682.90px;font-size:12.2px;line-height:19px;font-weight:normal;color:#1c1c1c;transform:scaleX(0.9951)">Nov</span><span class="ft" style="left:967.61px;top:682.90px;font-size:12.2px;line-height:19px;font-weight:normal;color:#1c1c1c;transform:scaleX(0.9926)">Dec</span><span class="ft" style="left:1099.75px;top:682.90px;font-size:12.2px;line-height:19px;font-weight:normal;color:#1c1c1c;transform:scaleX(1.0080)">Jan</span><span class="ft" style="left:1222.43px;top:682.90px;font-size:12.2px;line-height:19px;font-weight:normal;color:#1c1c1c;transform:scaleX(0.9692)">Feb</span><span class="ft" style="left:1354.64px;top:682.90px;font-size:12.2px;line-height:19px;font-weight:normal;color:#1c1c1c;transform:scaleX(0.9570)">Mar</span><span class="ft" style="left:508.17px;top:697.50px;font-size:12.8px;line-height:19px;font-weight:normal;color:#1c1c1c;transform:scaleX(0.9704)">2022</span><span class="ft" style="left:1242.10px;top:697.50px;font-size:12.8px;line-height:19px;font-weight:normal;color:#1c1c1c;transform:scaleX(0.9358)">2023</span>
<div class="box" style="left:14px;top:17px;width:375px;height:56px;background:#f1f1f1"></div>
<div class="sq" style="left:27.9px;top:39px;width:11.5px;height:10.8px;background:#0ed572"></div>
<span class="ft" style="left:43.58px;top:26.20px;font-size:27px;line-height:39px;font-weight:normal;color:#111;transform:scaleX(0.8877)">WTI</span><span class="ft" style="left:95.81px;top:26.20px;font-size:27px;line-height:39px;font-weight:normal;color:#111;transform:scaleX(0.7893)">CRUDE</span><span class="ft" style="left:180.42px;top:26.20px;font-size:27px;line-height:39px;font-weight:normal;color:#111;transform:scaleX(0.9446)">OIL</span><span class="ft" style="left:231.15px;top:26.20px;font-size:27px;line-height:39px;font-weight:normal;color:#111;transform:scaleX(1.3231)">-</span><span class="ft" style="left:251.97px;top:26.20px;font-size:27px;line-height:39px;font-weight:normal;color:#111;transform:scaleX(0.9928)">Last</span><span class="ft" style="left:311.52px;top:26.20px;font-size:27px;line-height:39px;font-weight:normal;color:#111;transform:scaleX(1.0586)">Price</span>
<div class="box" style="left:-1px;top:574px;width:443px;height:55px;background:rgba(230,230,230,0.53)"></div>
<div class="sq" style="left:13.1px;top:595.8px;width:11.4px;height:11px;background:#000"></div>
<span class="ft" style="left:27.44px;top:582.80px;font-size:27px;line-height:39px;font-weight:normal;color:#111;transform:scaleX(0.9590)">RSI</span><span class="ft" style="left:79.65px;top:582.80px;font-size:27px;line-height:39px;font-weight:normal;color:#111;transform:scaleX(1.1146)">(14)</span><span class="ft" style="left:151.90px;top:582.80px;font-size:27px;line-height:39px;font-weight:normal;color:#111;transform:scaleX(0.9593)">on</span><span class="ft" style="left:189.95px;top:582.80px;font-size:27px;line-height:39px;font-weight:normal;color:#111;transform:scaleX(0.9233)">Close</span><span class="ft" style="left:263.85px;top:582.80px;font-size:27px;line-height:39px;font-weight:normal;color:#111;transform:scaleX(0.9403)">(CLA)</span><span class="ft" style="left:336.63px;top:582.80px;font-size:27px;line-height:39px;font-weight:normal;color:#111;transform:scaleX(0.9448)">43.3093</span>
<span class="ft sr" style="left:4.27px;top:715.20px;font-size:22px;line-height:32px;font-weight:bold;color:#000;transform:scaleX(1.2418)">Source:</span><span class="ft sr" style="left:116.64px;top:715.20px;font-size:22px;line-height:32px;font-weight:bold;color:#000;transform:scaleX(1.2393)">FlowBank,</span><span class="ft sr" style="left:263.38px;top:715.20px;font-size:22px;line-height:32px;font-weight:bold;color:#000;transform:scaleX(1.2150)">Bloomberg</span>
</body></html>
